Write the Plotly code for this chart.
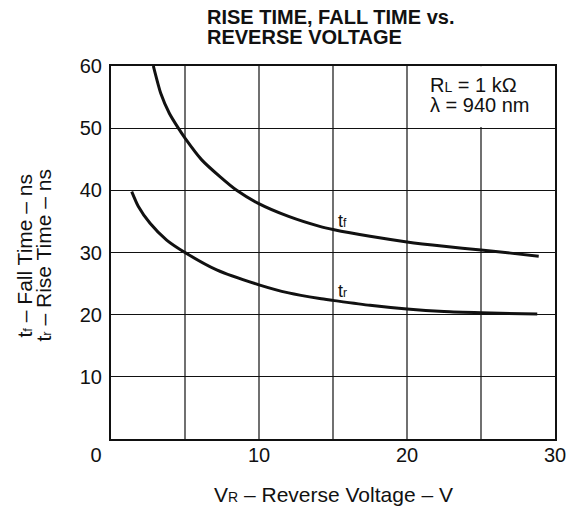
import plotly.graph_objects as go

# Data
vr_fall = [2.86, 3.36, 3.94, 4.55, 5.0, 6.13, 7.36, 8.49, 9.95, 12, 14.1, 15, 17.5, 20, 22.5, 25, 27, 28.9]
t_fall = [60, 55.6, 52.4, 50.0, 48.4, 44.9, 42.2, 40.0, 37.9, 35.8, 34.2, 33.7, 32.6, 31.7, 31.0, 30.4, 29.9, 29.4]

vr_rise = [1.4, 1.85, 2.64, 3.76, 5.0, 7.14, 10, 12, 14.1, 15, 17.5, 20, 22.5, 25, 28.8]
t_rise = [39.8, 37.4, 34.7, 32.0, 30.0, 27.2, 24.8, 23.5, 22.6, 22.3, 21.5, 20.9, 20.5, 20.3, 20.1]

x_ticks = [0, 10, 20, 30]
x_ticktext = ["0\u2003\u2002", "10", "20", "30"]
y_ticks = [10, 20, 30, 40, 50, 60]
x_grid = [5, 10, 15, 20, 25]

FONT = "Liberation Sans, Arial, sans-serif"
INK = "#111111"


def small(s, px):
    return '<span style="font-size:%dpx">%s</span>' % (px, s)


fig = go.Figure()
fig.add_trace(go.Scatter(x=vr_fall, y=t_fall, mode="lines",
                         line=dict(color=INK, width=3, shape="spline", smoothing=0.6),
                         showlegend=False, hoverinfo="skip"))
fig.add_trace(go.Scatter(x=vr_rise, y=t_rise, mode="lines",
                         line=dict(color=INK, width=3, shape="spline", smoothing=0.6),
                         showlegend=False, hoverinfo="skip"))

# vertical grid every 5 V (labels only every 10 V)
for v in x_grid:
    fig.add_shape(type="line", xref="x", yref="y", x0=v, x1=v, y0=0, y1=60,
                  line=dict(color=INK, width=1.2), layer="below")

# white box behind the condition text (hides the grid there)
fig.add_shape(type="rect", xref="x", yref="y", x0=20.1, x1=29.95, y0=50.2, y1=59.95,
              fillcolor="white", line=dict(width=0), layer="between")

fig.add_annotation(x=21.4, y=56.9, xref="x", yref="y", xanchor="left", yanchor="middle",
                   text="R" + small("L", 14) + " = 1 kΩ", showarrow=False,
                   font=dict(family=FONT, size=20, color=INK))
fig.add_annotation(x=21.4, y=53.8, xref="x", yref="y", xanchor="left", yanchor="middle",
                   text="λ = 940 nm", showarrow=False,
                   font=dict(family=FONT, size=20, color=INK))

fig.add_annotation(x=15.2, y=35.1, xref="x", yref="y", xanchor="left", yanchor="middle",
                   text="t" + small("f", 12), showarrow=False,
                   font=dict(family=FONT, size=18, color=INK))
fig.add_annotation(x=15.2, y=23.8, xref="x", yref="y", xanchor="left", yanchor="middle",
                   text="t" + small("r", 12), showarrow=False,
                   font=dict(family=FONT, size=18, color=INK))

# title (two lines, tight spacing)
title_x = (205 - 111) / 444
fig.add_annotation(x=title_x, y=1, xref="paper", yref="paper", xanchor="left", yanchor="middle",
                   text="<b>RISE TIME, FALL TIME vs.</b>", showarrow=False, yshift=49,
                   font=dict(family=FONT, size=20, color=INK))
fig.add_annotation(x=title_x, y=1, xref="paper", yref="paper", xanchor="left", yanchor="middle",
                   text="<b>REVERSE VOLTAGE</b>", showarrow=False, yshift=29,
                   font=dict(family=FONT, size=20, color=INK))

# axis titles
fig.add_annotation(x=0.5, y=0, xref="paper", yref="paper", xanchor="center", yanchor="middle",
                   text="V" + small("R", 14) + " – Reverse Voltage – V", showarrow=False, yshift=-55,
                   font=dict(family=FONT, size=21, color=INK))
fig.add_annotation(x=0, y=0.5, xref="paper", yref="paper", xanchor="center", yanchor="middle",
                   text="t" + small("f", 13) + " – Fall Time – ns",
                   showarrow=False, textangle=-90, xshift=-87, yshift=-3,
                   font=dict(family=FONT, size=21, color=INK))
fig.add_annotation(x=0, y=0.5, xref="paper", yref="paper", xanchor="center", yanchor="middle",
                   text="t" + small("r", 13) + " – Rise Time – ns",
                   showarrow=False, textangle=-90, xshift=-68, yshift=-3,
                   font=dict(family=FONT, size=21, color=INK))

fig.update_layout(
    width=581, height=512,
    margin=dict(l=103, r=34, t=58, b=81),
    paper_bgcolor="white", plot_bgcolor="white",
    font=dict(family=FONT, color=INK),
    xaxis=dict(range=[0, 30], tickvals=x_ticks, ticktext=x_ticktext, ticks="", showline=True,
               linecolor=INK, linewidth=2, mirror=True, showgrid=False, zeroline=False,
               ticklabelstandoff=-3,
               tickfont=dict(family=FONT, size=20, color=INK)),
    yaxis=dict(range=[0, 60], tickvals=y_ticks, ticks="", showline=True, linecolor=INK,
               linewidth=2, mirror=True, showgrid=True, gridcolor=INK, gridwidth=1.2,
               zeroline=False, ticklabelstandoff=3,
               tickfont=dict(family=FONT, size=20, color=INK)),
)

fig.write_html("out.html")
